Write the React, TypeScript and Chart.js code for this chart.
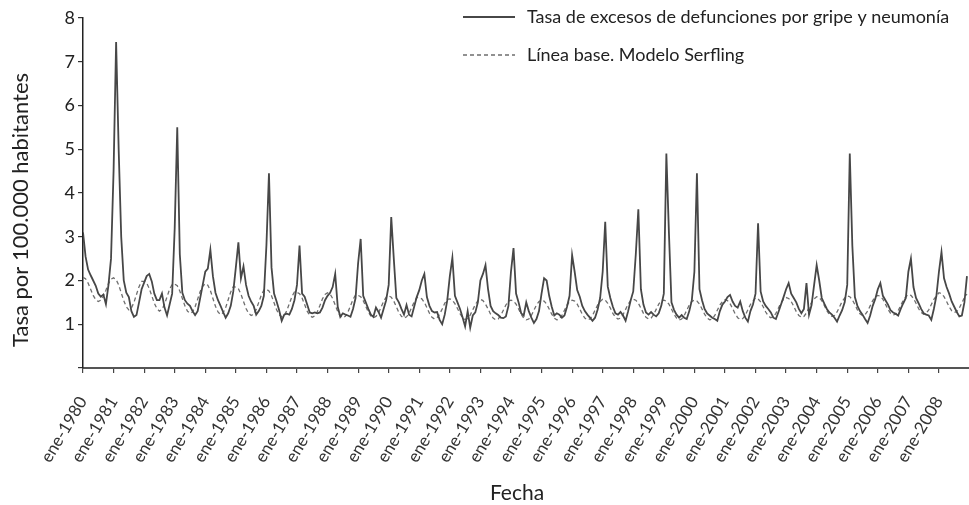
import React, { useEffect, useRef } from 'react';
import { Chart, registerables } from 'chart.js';

Chart.register(...registerables);

const startYear = 1980;

const tickLabels = [
  'ene-1980', 'ene-1981', 'ene-1982', 'ene-1983', 'ene-1984', 'ene-1985', 'ene-1986', 'ene-1987',
  'ene-1988', 'ene-1989', 'ene-1990', 'ene-1991', 'ene-1992', 'ene-1993', 'ene-1994', 'ene-1995',
  'ene-1996', 'ene-1997', 'ene-1998', 'ene-1999', 'ene-2000', 'ene-2001', 'ene-2002', 'ene-2003',
  'ene-2004', 'ene-2005', 'ene-2006', 'ene-2007', 'ene-2008',
];

const yTickValues = [0, 1, 2, 3, 4, 5, 6, 7, 8];

const seriesLabels = [
  'Tasa de excesos de defunciones por gripe y neumonía',
  'Línea base. Modelo Serfling',
];

const xTitle = 'Fecha';
const yTitle = 'Tasa por 100.000 habitantes';

// monthly values, one row per year (Jan..Dec), 1980-2008
const excessRate = [
  3.1, 2.55, 2.25, 2.12, 2.0, 1.88, 1.7, 1.63, 1.68, 1.46, 1.9, 2.5,
  4.5, 7.45, 5.0, 3.0, 2.0, 1.72, 1.62, 1.3, 1.17, 1.21, 1.5, 1.8,
  1.95, 2.1, 2.15, 1.98, 1.7, 1.55, 1.55, 1.7, 1.38, 1.2, 1.45, 1.7,
  3.2, 5.5, 2.6, 1.72, 1.55, 1.47, 1.42, 1.3, 1.21, 1.3, 1.6, 1.9,
  2.2, 2.27, 2.7, 2.1, 1.72, 1.55, 1.42, 1.28, 1.15, 1.25, 1.42, 1.75,
  2.3, 2.87, 2.05, 2.32, 1.9, 1.65, 1.52, 1.42, 1.22, 1.3, 1.42, 1.65,
  2.8, 4.45, 2.3, 1.7, 1.52, 1.32, 1.08, 1.22, 1.24, 1.22, 1.35, 1.55,
  1.9, 2.8, 1.7, 1.63, 1.45, 1.27, 1.25, 1.27, 1.25, 1.27, 1.38, 1.55,
  1.65, 1.72, 1.85, 2.15, 1.4, 1.17, 1.25, 1.22, 1.2, 1.17, 1.35, 1.6,
  2.4, 2.95, 1.65, 1.5, 1.35, 1.22, 1.17, 1.38, 1.28, 1.15, 1.35, 1.55,
  1.9, 3.45, 2.5, 1.6, 1.5, 1.35, 1.22, 1.44, 1.22, 1.18, 1.4, 1.62,
  1.78, 2.0, 2.15, 1.62, 1.42, 1.3, 1.27, 1.28, 1.1, 1.0, 1.22, 1.55,
  2.1, 2.52, 1.65, 1.5, 1.35, 1.16, 0.95, 1.3, 0.92, 1.2, 1.27, 1.5,
  2.0, 2.15, 2.35, 1.8, 1.42, 1.3, 1.25, 1.21, 1.15, 1.14, 1.18, 1.42,
  2.2, 2.74, 1.7, 1.5, 1.25, 1.2, 1.5, 1.3, 1.15, 1.03, 1.12, 1.3,
  1.7, 2.05, 2.0, 1.65, 1.4, 1.2, 1.25, 1.22, 1.15, 1.2, 1.4, 1.65,
  2.58, 2.2, 1.78, 1.63, 1.42, 1.3, 1.22, 1.15, 1.08, 1.15, 1.33, 1.6,
  2.2, 3.34, 1.86, 1.6, 1.4, 1.25, 1.22, 1.28, 1.2, 1.08, 1.3, 1.55,
  1.75, 2.6, 3.63, 1.8, 1.45, 1.27, 1.22, 1.28, 1.22, 1.18, 1.25, 1.42,
  1.7, 4.9, 3.1, 1.5, 1.33, 1.22, 1.15, 1.21, 1.15, 1.12, 1.3, 1.55,
  2.2, 4.45, 1.8, 1.55, 1.35, 1.25, 1.2, 1.15, 1.12, 1.08, 1.3, 1.45,
  1.52, 1.62, 1.67, 1.52, 1.42, 1.38, 1.52, 1.3, 1.15, 1.06, 1.3, 1.45,
  1.7, 3.31, 1.75, 1.52, 1.42, 1.35, 1.27, 1.15, 1.12, 1.28, 1.45, 1.62,
  1.8, 1.94, 1.7, 1.6, 1.5, 1.35, 1.25, 1.35, 1.94, 1.22, 1.44, 1.9,
  2.35, 2.0, 1.6, 1.47, 1.35, 1.27, 1.22, 1.15, 1.06, 1.2, 1.32, 1.5,
  1.9, 4.9, 2.8, 1.62, 1.42, 1.3, 1.22, 1.12, 1.03, 1.2, 1.42, 1.58,
  1.8, 1.94, 1.65, 1.55, 1.45, 1.32, 1.27, 1.24, 1.2, 1.35, 1.48, 1.6,
  2.2, 2.5, 1.85, 1.6, 1.48, 1.35, 1.25, 1.22, 1.2, 1.1, 1.35, 1.65,
  2.2, 2.65, 2.05, 1.85, 1.7, 1.52, 1.4, 1.28, 1.18, 1.2, 1.5, 2.1,
];

const serflingBaseline = [
  2.07, 2.04, 1.94, 1.8, 1.66, 1.56, 1.52, 1.55, 1.64, 1.78, 1.93, 2.03,
  2.06, 2.02, 1.9, 1.72, 1.54, 1.4, 1.33, 1.37, 1.5, 1.68, 1.86, 1.98,
  1.98, 1.94, 1.82, 1.65, 1.48, 1.36, 1.3, 1.34, 1.46, 1.63, 1.8, 1.91,
  1.92, 1.88, 1.76, 1.59, 1.42, 1.3, 1.25, 1.28, 1.4, 1.57, 1.75, 1.87,
  1.93, 1.89, 1.77, 1.59, 1.41, 1.28, 1.22, 1.26, 1.38, 1.56, 1.74, 1.86,
  1.85, 1.81, 1.69, 1.52, 1.36, 1.25, 1.2, 1.23, 1.34, 1.5, 1.67, 1.78,
  1.8, 1.76, 1.65, 1.49, 1.33, 1.22, 1.17, 1.2, 1.31, 1.47, 1.63, 1.74,
  1.73, 1.7, 1.6, 1.45, 1.3, 1.2, 1.16, 1.19, 1.29, 1.43, 1.58, 1.68,
  1.72, 1.69, 1.59, 1.44, 1.29, 1.19, 1.15, 1.18, 1.28, 1.42, 1.57, 1.67,
  1.66, 1.63, 1.54, 1.41, 1.28, 1.19, 1.15, 1.18, 1.26, 1.39, 1.52, 1.62,
  1.65, 1.62, 1.53, 1.4, 1.27, 1.18, 1.14, 1.17, 1.25, 1.38, 1.51, 1.61,
  1.61, 1.58, 1.5, 1.38, 1.25, 1.16, 1.12, 1.15, 1.23, 1.35, 1.48, 1.57,
  1.58, 1.55, 1.47, 1.36, 1.24, 1.15, 1.11, 1.13, 1.21, 1.33, 1.45, 1.54,
  1.57, 1.54, 1.46, 1.35, 1.23, 1.14, 1.1, 1.12, 1.2, 1.32, 1.44, 1.53,
  1.55, 1.53, 1.46, 1.35, 1.23, 1.14, 1.1, 1.12, 1.2, 1.32, 1.44, 1.52,
  1.55, 1.53, 1.46, 1.35, 1.23, 1.14, 1.1, 1.12, 1.2, 1.32, 1.44, 1.52,
  1.55, 1.53, 1.46, 1.35, 1.23, 1.14, 1.1, 1.12, 1.2, 1.32, 1.44, 1.52,
  1.57, 1.55, 1.48, 1.37, 1.25, 1.16, 1.12, 1.14, 1.22, 1.34, 1.46, 1.54,
  1.57, 1.55, 1.48, 1.37, 1.25, 1.16, 1.12, 1.14, 1.22, 1.34, 1.46, 1.54,
  1.55, 1.53, 1.46, 1.35, 1.23, 1.14, 1.1, 1.12, 1.2, 1.32, 1.44, 1.52,
  1.55, 1.53, 1.46, 1.35, 1.23, 1.14, 1.1, 1.12, 1.2, 1.32, 1.44, 1.52,
  1.56, 1.54, 1.47, 1.36, 1.24, 1.15, 1.11, 1.13, 1.21, 1.33, 1.45, 1.53,
  1.6, 1.58, 1.51, 1.4, 1.28, 1.19, 1.15, 1.17, 1.25, 1.37, 1.49, 1.57,
  1.61, 1.59, 1.52, 1.41, 1.29, 1.2, 1.16, 1.18, 1.26, 1.38, 1.5, 1.58,
  1.63, 1.61, 1.54, 1.43, 1.31, 1.22, 1.18, 1.2, 1.28, 1.4, 1.52, 1.6,
  1.65, 1.63, 1.56, 1.45, 1.33, 1.24, 1.2, 1.22, 1.3, 1.42, 1.54, 1.62,
  1.66, 1.64, 1.57, 1.46, 1.34, 1.25, 1.21, 1.23, 1.31, 1.43, 1.55, 1.63,
  1.68, 1.66, 1.59, 1.48, 1.36, 1.27, 1.23, 1.25, 1.33, 1.45, 1.57, 1.65,
  1.72, 1.7, 1.63, 1.52, 1.4, 1.31, 1.27, 1.29, 1.37, 1.49, 1.61, 1.69,
];

const toPoints = (vals: number[]) => vals.map((y, i) => ({ x: startYear + i / 12, y }));

const FONT = 'Lato, "Open Sans", "DejaVu Sans", sans-serif';

const overlayPlugin = {
  id: 'overlay',
  afterDraw(chart: any) {
    const ctx = chart.ctx as CanvasRenderingContext2D;
    ctx.save();
    ctx.fillStyle = '#222';
    // y title
    ctx.save();
    ctx.translate(21, 210);
    ctx.rotate(-Math.PI / 2);
    ctx.font = `22px ${FONT}`;
    ctx.textAlign = 'center';
    ctx.textBaseline = 'middle';
    ctx.fillText(yTitle, 0, 0);
    ctx.restore();
    // x title
    ctx.font = `21px ${FONT}`;
    ctx.textAlign = 'center';
    ctx.textBaseline = 'middle';
    ctx.fillText(xTitle, 517, 493);
    // legend
    const ds = chart.data.datasets;
    const rows = [17, 55];
    ds.forEach((d: any, i: number) => {
      const y = rows[i];
      ctx.save();
      ctx.strokeStyle = d.borderColor;
      ctx.lineWidth = i === 0 ? 1.8 : 1.3;
      ctx.setLineDash(d.borderDash || []);
      ctx.beginPath();
      ctx.moveTo(463, y);
      ctx.lineTo(515, y);
      ctx.stroke();
      ctx.restore();
      ctx.font = `18px ${FONT}`;
      ctx.textAlign = 'left';
      ctx.textBaseline = 'middle';
      ctx.fillStyle = '#222';
      ctx.fillText(d.label, 527, y);
    });
    ctx.restore();
  },
};

export default function App() {
  const ref = useRef<HTMLCanvasElement>(null);
  useEffect(() => {
    if (!ref.current) return;
    const chart = new Chart(ref.current, {
      type: 'line',
      data: {
        datasets: [
          {
            label: seriesLabels[0],
            data: toPoints(excessRate),
            borderColor: '#474747',
            borderWidth: 1.8,
            pointRadius: 0,
            tension: 0,
            fill: false,
          },
          {
            label: seriesLabels[1],
            data: toPoints(serflingBaseline),
            borderColor: '#6e6e6e',
            borderWidth: 1.3,
            borderDash: [4, 3],
            pointRadius: 0,
            tension: 0,
            fill: false,
          },
        ],
      },
      options: {
        responsive: false,
        animation: false,
        layout: { padding: { top: 18, right: 0, bottom: 0, left: 0 } },
        plugins: { legend: { display: false }, tooltip: { enabled: false } },
        scales: {
          x: {
            type: 'linear',
            min: startYear,
            max: startYear + 347.8 / 12,
            afterBuildTicks: (scale: any) => {
              scale.ticks = tickLabels.map((_, i) => ({ value: startYear + i }));
            },
            afterFit: (scale: any) => {
              scale.height = 137;
              scale.paddingRight = 0;
              scale.paddingLeft = 0;
            },
            ticks: {
              autoSkip: false,
              maxRotation: 59,
              minRotation: 59,
              padding: 20,
              color: '#333',
              font: { family: FONT, size: 17 },
              callback: (_v: any, i: number) => tickLabels[i],
            },
            grid: { display: true, drawOnChartArea: false, drawTicks: true, tickLength: 5, color: '#444', lineWidth: 1.2 },
            border: { display: true, color: '#555', width: 2 },
          },
          y: {
            type: 'linear',
            min: 0,
            max: 8,
            afterBuildTicks: (scale: any) => {
              scale.ticks = yTickValues.map((v) => ({ value: v }));
            },
            afterFit: (scale: any) => {
              scale.width = 83;
            },
            ticks: {
              padding: 3,
              color: '#222',
              font: { family: FONT, size: 18 },
              callback: (v: any) => (v === 0 ? '' : String(v)),
            },
            grid: { display: true, drawOnChartArea: false, drawTicks: true, tickLength: 5, color: '#333', lineWidth: 1.2 },
            border: { display: true, color: '#222', width: 1.5 },
          },
        },
      },
      plugins: [overlayPlugin],
    } as any);
    return () => chart.destroy();
  }, []);
  return (
    <div style={{ position: 'absolute', left: 0, top: 0, width: 969, height: 505, background: '#fff' }}>
      <canvas ref={ref} width={969} height={505} style={{ display: 'block' }} />
    </div>
  );
}
